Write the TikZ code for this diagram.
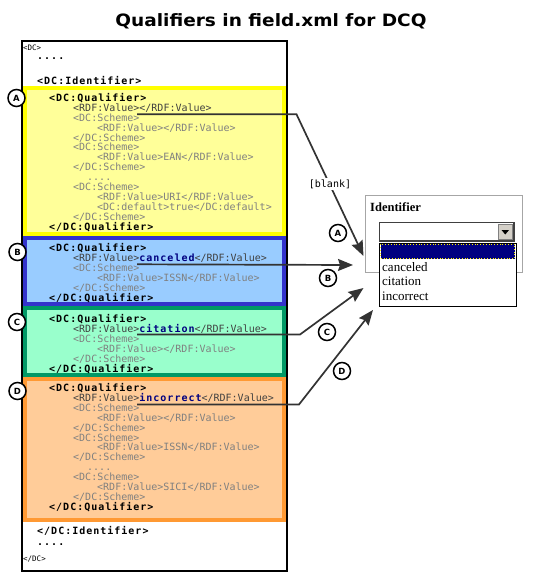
\documentclass[tikz,border=0pt]{standalone}
\usepackage{fontspec}
\usetikzlibrary{arrows.meta}
\setmainfont{DejaVu Sans}
\newfontfamily\codefont{DejaVu Sans Mono}
\newfontfamily\cbfont{DejaVu Sans Mono}[LetterSpace=10]
\newfontfamily\uiserif{Liberation Serif}
\definecolor{yfill}{HTML}{FFFF99}\definecolor{yborder}{HTML}{FFFF00}
\definecolor{bfill}{HTML}{99CCFF}\definecolor{bborder}{HTML}{3333CC}
\definecolor{gfill}{HTML}{99FFCC}\definecolor{gborder}{HTML}{009966}
\definecolor{ofill}{HTML}{FFCC99}\definecolor{oborder}{HTML}{FF9933}
\definecolor{arrowc}{HTML}{333333}
\definecolor{valgray}{HTML}{404040}
\definecolor{schgray}{HTML}{808080}
\definecolor{navyv}{HTML}{000080}
\definecolor{btngray}{HTML}{D4D0C8}
\newcommand\tagb[1]{{\cbfont\bfseries\color{black}#1}}
\newcommand\tagv[1]{{\color{valgray}#1}}
\newcommand\tags[1]{{\color{schgray}#1}}
\newcommand\valb[1]{{\cbfont\bfseries\color{navyv}#1}}
\newcounter{clcount}
\newcommand\cl[3]{\stepcounter{clcount}\edef\clname{cl\arabic{clcount}}%
  \node[code] (\clname) at (#1,#2) {#3};}
\tikzset{
  code/.style={inner sep=0pt, anchor=base west, font=\codefont\fontsize{10bp}{10bp}\selectfont},
  smallcode/.style={inner sep=0pt, anchor=base west, font=\codefont\fontsize{7.5bp}{7.5bp}\selectfont},
  qbox/.style={line width=4bp},
  conn/.style={draw=arrowc, line width=1.7bp, -{Stealth[length=15bp,width=12bp,inset=2bp]}},
  circlab/.style={circle, draw=black, line width=1.5bp, fill=white, minimum size=17bp, inner sep=0pt,
    font=\bfseries\fontsize{8.5bp}{8.5bp}\selectfont},
  uitext/.style={inner sep=0pt, anchor=base west, font=\uiserif\fontsize{13bp}{13bp}\selectfont},
}
\begin{document}
\begin{tikzpicture}[x=1bp,y=-1bp]
\useasboundingbox (0,0) rectangle (535,582);
% title
\node[inner sep=0pt, anchor=base] (title) at (271,27)
  {\scalebox{1.09}[1]{\bfseries\fontsize{17bp}{17bp}\selectfont Qualifiers in field.xml for DCQ}};
% outer frame
\draw[line width=2bp, fill=white] (22,41) rectangle (287,571);
% coloured qualifier boxes
\draw[qbox, draw=yborder, fill=yfill] (25,88) rectangle (284,234);
\draw[qbox, draw=bborder, fill=bfill] (25,238) rectangle (284,304);
\draw[qbox, draw=gborder, fill=gfill] (25,308) rectangle (284,375);
\draw[qbox, draw=oborder, fill=ofill] (25,379) rectangle (284,520);
% top text
\node[smallcode] (dcopen) at (23,51) {<DC>};
\cl{37}{60}{\tagb{....}}
\cl{37}{84.5}{\tagb{<DC:Identifier>}}
% yellow block
\cl{49}{101.5}{\tagb{<DC:Qualifier>}}
\cl{73}{111.4}{\tagv{<RDF:Value></RDF:Value>}}
\cl{73}{121.3}{\tags{<DC:Scheme>}}
\cl{97}{131.2}{\tags{<RDF:Value></RDF:Value>}}
\cl{73}{141.1}{\tags{</DC:Scheme>}}
\cl{73}{151.0}{\tags{<DC:Scheme>}}
\cl{97}{160.9}{\tags{<RDF:Value>EAN</RDF:Value>}}
\cl{73}{170.8}{\tags{</DC:Scheme>}}
\cl{87}{180.7}{\tags{....}}
\cl{73}{190.6}{\tags{<DC:Scheme>}}
\cl{97}{200.5}{\tags{<RDF:Value>URI</RDF:Value>}}
\cl{97}{210.4}{\tags{<DC:default>true</DC:default>}}
\cl{73}{220.3}{\tags{</DC:Scheme>}}
\cl{49}{230.2}{\tagb{</DC:Qualifier>}}
% blue block
\cl{49}{251.5}{\tagb{<DC:Qualifier>}}
\cl{73}{261.4}{\tagv{<RDF:Value>}\valb{canceled}\tagv{</RDF:Value>}}
\cl{73}{271.3}{\tags{<DC:Scheme>}}
\cl{97}{281.2}{\tags{<RDF:Value>ISSN</RDF:Value>}}
\cl{73}{291.1}{\tags{</DC:Scheme>}}
\cl{49}{301.0}{\tagb{</DC:Qualifier>}}
% green block
\cl{49}{322.5}{\tagb{<DC:Qualifier>}}
\cl{73}{332.4}{\tagv{<RDF:Value>}\valb{citation}\tagv{</RDF:Value>}}
\cl{73}{342.3}{\tags{<DC:Scheme>}}
\cl{97}{352.2}{\tags{<RDF:Value></RDF:Value>}}
\cl{73}{362.1}{\tags{</DC:Scheme>}}
\cl{49}{372.0}{\tagb{</DC:Qualifier>}}
% orange block
\cl{49}{391.5}{\tagb{<DC:Qualifier>}}
\cl{73}{401.4}{\tagv{<RDF:Value>}\valb{incorrect}\tagv{</RDF:Value>}}
\cl{73}{411.3}{\tags{<DC:Scheme>}}
\cl{97}{421.2}{\tags{<RDF:Value></RDF:Value>}}
\cl{73}{431.1}{\tags{</DC:Scheme>}}
\cl{73}{441.0}{\tags{<DC:Scheme>}}
\cl{97}{450.9}{\tags{<RDF:Value>ISSN</RDF:Value>}}
\cl{73}{460.8}{\tags{</DC:Scheme>}}
\cl{87}{470.7}{\tags{....}}
\cl{73}{480.6}{\tags{<DC:Scheme>}}
\cl{97}{490.5}{\tags{<RDF:Value>SICI</RDF:Value>}}
\cl{73}{500.4}{\tags{</DC:Scheme>}}
\cl{49}{510.3}{\tagb{</DC:Qualifier>}}
% bottom text
\cl{37}{534}{\tagb{</DC:Identifier>}}
\cl{37}{545}{\tagb{....}}
\node[smallcode] (dcclose) at (23,561) {</DC>};
% left circle labels
\node[circlab] (la) at (16.5,98) {A};
\node[circlab] (lb) at (17.5,252) {B};
\node[circlab] (lc) at (17,322) {C};
\node[circlab] (ld) at (17.5,391) {D};
% right panel
\draw[line width=1.5bp, draw=black!35, fill=white] (365.5,195.5) rectangle (522.5,272.5);
\node[uitext, font=\uiserif\bfseries\fontsize{12.5bp}{12.5bp}\selectfont] (ident) at (370,211.5) {Identifier};
\draw[line width=1.3bp, draw=black!75, fill=white] (379.5,222.5) rectangle (514,241);
\draw[line width=0.8bp, draw=black!50, fill=btngray] (498,224.5) rectangle (512.5,239.5);
\fill (501.5,230) -- (509,230) -- (505.25,234.5) -- cycle;
\draw[line width=1bp, draw=black, fill=white] (379.5,243) rectangle (516,306.5);
\fill[navyv] (380.5,244) rectangle (515,258.5);
\draw[yellow, dotted, line width=0.8bp] (380.8,244.3) rectangle (514.7,258.2);
\node[uitext] (ocanc) at (382,271) {canceled};
\node[uitext] (ocita) at (382,285.7) {citation};
\node[uitext] (oinco) at (382,300.7) {incorrect};
% connector endpoints
\coordinate (sA) at (137,114.3);
\coordinate (kA) at (296.5,114.3);
\coordinate (tA) at (363.5,256);
\coordinate (sB) at (137,264.3);
\coordinate (tB) at (353,265);
\coordinate (sC) at (137,334.5);
\coordinate (kC) at (300,334.5);
\coordinate (tC) at (363.5,288);
\coordinate (sD) at (137,404.5);
\coordinate (kD) at (299,404.5);
\coordinate (tD) at (373,310);
\draw[conn] (sA) -- (kA) -- (tA);
\draw[conn] (sB) -- (tB);
\draw[conn] (sC) -- (kC) -- (tC);
\draw[conn] (sD) -- (kD) -- (tD);
\node[code, anchor=center, fill=white, inner sep=1.5bp] (blank) at (330,184) {[blank]};
% right circle labels
\node[circlab] (ra) at (338,233) {A};
\node[circlab] (rb) at (328,278) {B};
\node[circlab] (rc) at (327,332) {C};
\node[circlab] (rd) at (342,371) {D};
\end{tikzpicture}
\end{document}
